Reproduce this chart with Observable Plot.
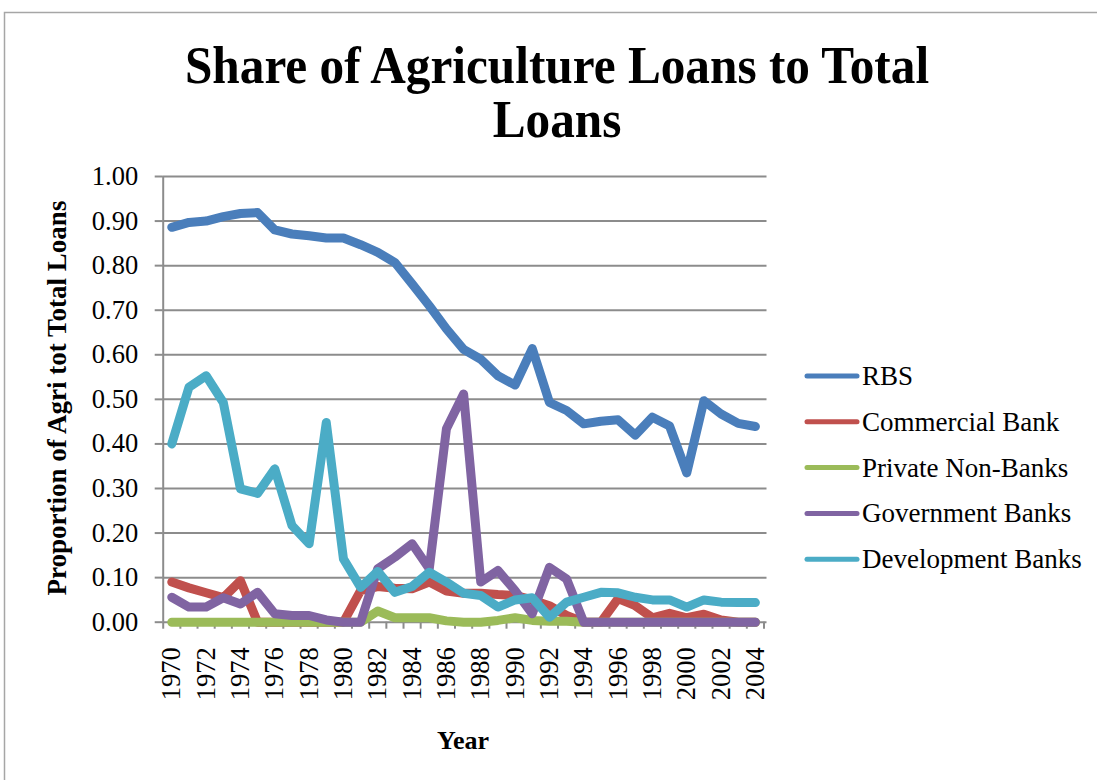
<!DOCTYPE html>
<html>
<head>
<meta charset="utf-8">
<script src="https://cdn.jsdelivr.net/npm/d3@7"></script>
<script src="https://cdn.jsdelivr.net/npm/@observablehq/plot@0.6"></script>
<style>
  html, body { margin: 0; padding: 0; background: #fff; }
  #wrap { position: relative; width: 1097px; height: 780px; overflow: hidden; font-family: "Liberation Serif", "DejaVu Serif", serif; }
  #wrap > svg { position: absolute; left: 0; top: 0; }
</style>
</head>
<body>
<div id="wrap"></div>
<script>
const years = [1970,1971,1972,1973,1974,1975,1976,1977,1978,1979,1980,1981,1982,1983,1984,1985,1986,1987,1988,1989,1990,1991,1992,1993,1994,1995,1996,1997,1998,1999,2000,2001,2002,2003,2004];
const rbs = [0.886,0.897,0.900,0.910,0.917,0.919,0.880,0.871,0.867,0.862, 0.862,0.847,0.830,0.807,0.759,0.710,0.658,0.612,0.590,0.553, 0.532,0.614,0.493,0.475,0.445,0.451,0.454,0.420,0.460,0.440, 0.335,0.497,0.467,0.446,0.439];
const commercialBank = [0.090,0.077,0.066,0.055,0.093,0,0,0,0,0, 0,0.071,0.080,0.076,0.075,0.090,0.070,0.065,0.065,0.062, 0.060,0.050,0.037,0.015,0,0,0.053,0.037,0.010,0.020, 0.010,0.018,0.005,0,0];
const privateNonBanks = [0,0,0,0,0,0,0,0,0,0, 0,0,0.025,0.010,0.010,0.010,0.003,0,0,0.004, 0.010,0.004,0.002,0.002,0,0,0,0,0,0, 0,0,0,0,0];
const governmentBanks = [0.056,0.034,0.034,0.055,0.041,0.067,0.019,0.015,0.015,0.005, 0,0,0.120,0.146,0.176,0.120,0.434,0.512,0.090,0.116, 0.071,0.019,0.123,0.097,0,0,0,0,0,0, 0,0,0,0,0];
const developmentBanks = [0.400,0.527,0.553,0.493,0.299,0.289,0.344,0.217,0.176,0.448, 0.142,0.078,0.114,0.067,0.080,0.112,0.090,0.065,0.060,0.034, 0.050,0.055,0.011,0.045,0.056,0.067,0.066,0.056,0.050,0.050, 0.034,0.050,0.045,0.044,0.044];

const seriesNames = ["RBS","Commercial Bank","Private Non-Banks","Government Banks","Development Banks"];
const seriesValues = [rbs, commercialBank, privateNonBanks, governmentBanks, developmentBanks];
const seriesColors = ["#4a7ebb","#c0504d","#9bbb59","#8064a2","#4bacc6"];
const yTicks = [0,0.1,0.2,0.3,0.4,0.5,0.6,0.7,0.8,0.9,1.0];
const xLabelYears = years.filter(y => y % 2 === 0);

const rows = [];
seriesNames.forEach((name, i) => {
  years.forEach((yr, j) => rows.push({series: name, year: yr, value: seriesValues[i][j]}));
});
const boundaries = [...years.map(y => y - 0.5), years[years.length - 1] + 0.5];

const gray = "#8c8c8c";
const W = 1097, H = 780;

const chart = Plot.plot({
  width: W, height: H,
  marginLeft: 162.7, marginRight: W - 763.5, marginTop: 176, marginBottom: H - 621.7,
  style: {fontFamily: "'Liberation Serif', serif", background: "transparent", overflow: "visible"},
  x: {type: "linear", domain: [boundaries[0], boundaries[boundaries.length - 1]]},
  y: {domain: [0, 1]},
  marks: [
    Plot.ruleY(yTicks, {stroke: gray, strokeWidth: 2, insetRight: -3}),
    Plot.ruleX([boundaries[0]], {stroke: gray, strokeWidth: 2}),
    Plot.axisY({ticks: yTicks, tickFormat: d3.format(".2f"), tickSize: 8, tickPadding: 17, fontSize: 26.5, stroke: gray, strokeWidth: 2, fill: "#000", label: null}),
    Plot.axisX({ticks: boundaries, tickSize: 7, tickFormat: () => "", stroke: gray, strokeWidth: 2, label: null}),
    Plot.axisX({ticks: xLabelYears, tickSize: 0, tickPadding: 25, tickRotate: -90, tickFormat: d => String(d), fontSize: 26.5, fill: "#000", label: null}),
    ...seriesNames.map((name, i) => Plot.lineY(rows.filter(r => r.series === name), {
      x: "year", y: "value", stroke: seriesColors[i], strokeWidth: 9,
      strokeLinejoin: "round", strokeLinecap: "round"
    }))
  ]
});

const wrap = document.getElementById("wrap");
wrap.appendChild(chart);

// overlay: border, titles, legend
const ov = d3.select(wrap).append("svg").attr("width", W).attr("height", H)
  .style("font-family", "'Liberation Serif', serif");
ov.append("rect").attr("x", 4.5).attr("y", 12.5).attr("width", W + 50).attr("height", H + 50)
  .attr("fill", "none").attr("stroke", "#a6a6a6").attr("stroke-width", 1.5);

const titleLines = ["Share of Agriculture Loans to Total", "Loans"];
ov.selectAll("text.title").data(titleLines).join("text").attr("class", "title")
  .attr("transform", (d, i) => `translate(557,${83 + i * 54}) scale(0.93,1)`)
  .attr("text-anchor", "middle").attr("font-size", 53).attr("font-weight", "bold").attr("fill", "#000")
  .text(d => d);

ov.append("text").attr("transform", "translate(66,398) rotate(-90)")
  .attr("text-anchor", "middle").attr("font-size", 27).attr("font-weight", "bold")
  .text("Proportion of Agri tot Total Loans");

ov.append("text").attr("x", 463).attr("y", 749).attr("text-anchor", "middle")
  .attr("font-size", 26).attr("font-weight", "bold").text("Year");

const leg = ov.selectAll("g.leg").data(seriesNames).join("g").attr("class", "leg")
  .attr("transform", (d, i) => `translate(0,${376 + i * 45.8})`);
leg.append("line").attr("x1", 807).attr("x2", 857).attr("y1", 0).attr("y2", 0)
  .attr("stroke", (d, i) => seriesColors[i]).attr("stroke-width", 5).attr("stroke-linecap", "round");
leg.append("text").attr("x", 862).attr("y", 9).attr("font-size", 27).attr("fill", "#000").text(d => d);
</script>
</body>
</html>
